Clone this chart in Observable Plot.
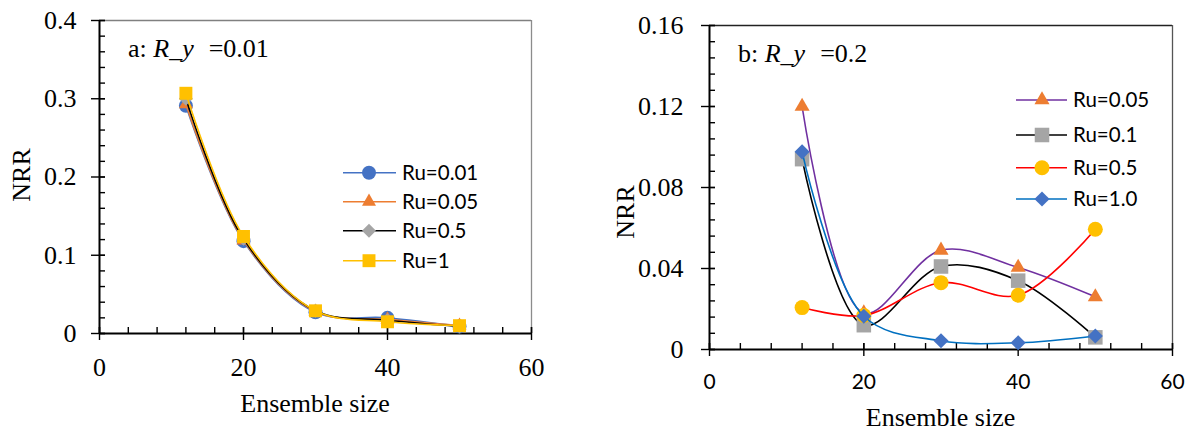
<!DOCTYPE html>
<html><head><meta charset="utf-8">
<script src="https://cdn.jsdelivr.net/npm/d3@7"></script>
<script src="https://cdn.jsdelivr.net/npm/@observablehq/plot@0.6"></script>
<style>
body{margin:0;background:#fff;width:1193px;height:431px;overflow:hidden;position:relative}
.panel{position:absolute;top:0}
</style></head><body>
<div id="pa" class="panel" style="left:0"></div>
<div id="pb" class="panel" style="left:600px"></div>
<script>
// ---- data ----
const ensembleSize = [12, 20, 30, 40, 50];
// panel a (R_y = 0.01)
const aLabels = ["Ru=0.01", "Ru=0.05", "Ru=0.5", "Ru=1"];
const aRu001 = [0.291, 0.118, 0.027, 0.020, 0.009];
const aRu005 = [0.293, 0.119, 0.028, 0.018, 0.010];
const aRu05  = [0.300, 0.121, 0.029, 0.017, 0.009];
const aRu1   = [0.307, 0.124, 0.029, 0.015, 0.010];
// panel b (R_y = 0.2)
const bLabels = ["Ru=0.05", "Ru=0.1", "Ru=0.5", "Ru=1.0"];
const bRu005 = [0.120, 0.018, 0.049, 0.0405, 0.026];
const bRu01  = [0.094, 0.012, 0.041, 0.034, 0.006];
const bRu05  = [0.0207, 0.0168, 0.033, 0.0268, 0.0594];
const bRu10  = [0.0976, 0.0164, 0.0043, 0.0033, 0.0067];
// ticks
const xTicks = [0, 20, 40, 60];
const aYTicks = [0, 0.1, 0.2, 0.3, 0.4];
const bYTicks = [0, 0.04, 0.08, 0.12, 0.16];

const SERIF = "Liberation Serif";
const SANS = "Lato";

function rowsOf(vals) { return ensembleSize.map((x, i) => ({x, y: vals[i]})); }

function buildPanel(cfg) {
  const {width, height, ml, mr, mt, mb, ymax} = cfg;
  const fw = width - ml - mr, fh = height - mt - mb;
  const xMinor = d3.range(0, 60.0001, 4);
  const yMinor = d3.range(0, ymax * 1.0001, ymax / 20);
  const marks = [
    Plot.ruleY([ymax], {stroke: cfg.topColor, strokeWidth: 1.3}),
    Plot.ruleX([60], {stroke: cfg.rightColor, strokeWidth: 1.3}),
    Plot.tickY(yMinor, {y: d => d, insetLeft: 0, insetRight: fw - 6, stroke: "black", strokeWidth: 1.4}),
    Plot.tickY(cfg.yTicks, {y: d => d, insetLeft: -8, insetRight: fw - 6, stroke: "black", strokeWidth: 1.4}),
    Plot.tickX(xMinor, {x: d => d, insetTop: fh - 6, insetBottom: 0, stroke: "black", strokeWidth: 1.4}),
    Plot.tickX(xTicks, {x: d => d, insetTop: fh - 6, insetBottom: -7, stroke: "black", strokeWidth: 1.4}),
    Plot.ruleY([0], {stroke: "black", strokeWidth: 2}),
    Plot.ruleX([0], {stroke: "black", strokeWidth: 2}),
    Plot.text(cfg.yTicks, {y: d => d, text: d => String(d), frameAnchor: "left", dx: cfg.yDx,
      textAnchor: "end", lineAnchor: "middle", fontSize: 26, fontFamily: SERIF, fill: "black"}),
    Plot.text(xTicks, {x: d => d, text: d => String(d), frameAnchor: "bottom", dy: cfg.xDy,
      textAnchor: "middle", lineAnchor: "middle", fontSize: cfg.xFontSize, fontFamily: cfg.xFont, fill: "black"})
  ];
  cfg.series.forEach(s => {
    const rows = rowsOf(s.values);
    marks.push(Plot.line(rows, {x: "x", y: "y", curve: "catmull-rom", stroke: s.line, strokeWidth: 1.6}));
    marks.push(Plot.dot(rows, {x: "x", y: "y", symbol: s.symbol, r: s.r, fill: s.fill, stroke: "none"}));
  });
  const svg = Plot.plot({
    width, height, marginLeft: ml, marginRight: mr, marginTop: mt, marginBottom: mb,
    x: {domain: [0, 60], axis: null},
    y: {domain: [0, ymax], axis: null},
    style: {background: "white", color: "black", overflow: "visible"},
    marks
  });
  const g = d3.select(svg);
  g.attr("font-family", SERIF);
  // panel title
  const t = g.append("text").attr("x", cfg.title.x).attr("y", cfg.title.y)
    .attr("text-anchor", "start")
    .attr("font-family", SERIF).attr("font-size", 26).attr("fill", "black");
  t.append("tspan").text(cfg.title.prefix);
  t.append("tspan").attr("font-style", "italic").text("R_y");
  t.append("tspan").attr("dx", 15).text(cfg.title.value);
  // axis titles
  g.append("text").attr("x", ml + fw / 2).attr("y", cfg.xTitleY)
    .attr("text-anchor", "middle").attr("font-family", SERIF).attr("font-size", 26)
    .attr("fill", "black").text("Ensemble size");
  g.append("text").attr("transform", `translate(${cfg.yTitleX},${cfg.yTitleCY}) rotate(-90)`)
    .attr("text-anchor", "middle").attr("font-family", SERIF).attr("font-size", 26)
    .attr("fill", "black").text("NRR");
  // legend
  const L = cfg.legend;
  cfg.series.forEach((s, i) => {
    const y = L.rows[i];
    g.append("line").attr("x1", L.x1).attr("x2", L.x2).attr("y1", y).attr("y2", y)
      .attr("stroke", s.line).attr("stroke-width", 1.6);
    const sym = {circle: d3.symbolCircle, triangle: d3.symbolTriangle, diamond2: d3.symbolDiamond2, square: d3.symbolSquare}[s.symbol];
    g.append("path").attr("d", d3.symbol(sym, Math.PI * s.r * s.r)())
      .attr("transform", `translate(${L.mx},${y})`).attr("fill", s.fill);
    g.append("text").attr("x", L.tx).attr("y", y).attr("dy", "0.36em")
      .attr("text-anchor", "start")
      .attr("font-family", SANS).attr("font-size", 20.5).attr("fill", "black").text(s.label);
  });
  return svg;
}

const panelA = buildPanel({
  width: 600, height: 431, ml: 99, mr: 69, mt: 20, mb: 98, ymax: 0.4,
  yTicks: aYTicks, topColor: "#808080", rightColor: "#8c8c8c",
  yDx: -23, xDy: 34, xFontSize: 26, xFont: SERIF,
  title: {x: 128, y: 57, prefix: "a: ", value: "=0.01"},
  xTitleY: 412, yTitleX: 30, yTitleCY: 175,
  legend: {x1: 343, x2: 396, mx: 369, tx: 402, rows: [172.7, 201.7, 230.7, 260.7]},
  series: [
    {label: aLabels[0], values: aRu001, line: "#4472C4", fill: "#4472C4", symbol: "circle", r: 7},
    {label: aLabels[1], values: aRu005, line: "#ED7D31", fill: "#ED7D31", symbol: "triangle", r: 5.2},
    {label: aLabels[2], values: aRu05, line: "#000000", fill: "#A5A5A5", symbol: "diamond2", r: 6.3},
    {label: aLabels[3], values: aRu1, line: "#FFC000", fill: "#FFC000", symbol: "square", r: 7.3}
  ]
});
document.getElementById("pa").appendChild(panelA);

const panelB = buildPanel({
  width: 593, height: 431, ml: 109, mr: 21, mt: 25, mb: 82, ymax: 0.16,
  yTicks: bYTicks, topColor: "#222222", rightColor: "#555555",
  yDx: -26, xDy: 33, xFontSize: 21, xFont: SANS,
  title: {x: 138, y: 62, prefix: "b: ", value: "=0.2"},
  xTitleY: 426, yTitleX: 34, yTitleCY: 212,
  legend: {x1: 416, x2: 467, mx: 442, tx: 473, rows: [100, 135, 167.7, 199]},
  series: [
    {label: bLabels[0], values: bRu005, line: "#7030A0", fill: "#ED7D31", symbol: "triangle", r: 5.6},
    {label: bLabels[1], values: bRu01, line: "#000000", fill: "#A5A5A5", symbol: "square", r: 8.2},
    {label: bLabels[2], values: bRu05, line: "#FF0000", fill: "#FFC000", symbol: "circle", r: 7.5},
    {label: bLabels[3], values: bRu10, line: "#0070C0", fill: "#4472C4", symbol: "diamond2", r: 6.8}
  ]
});
document.getElementById("pb").appendChild(panelB);
</script>
</body></html>
